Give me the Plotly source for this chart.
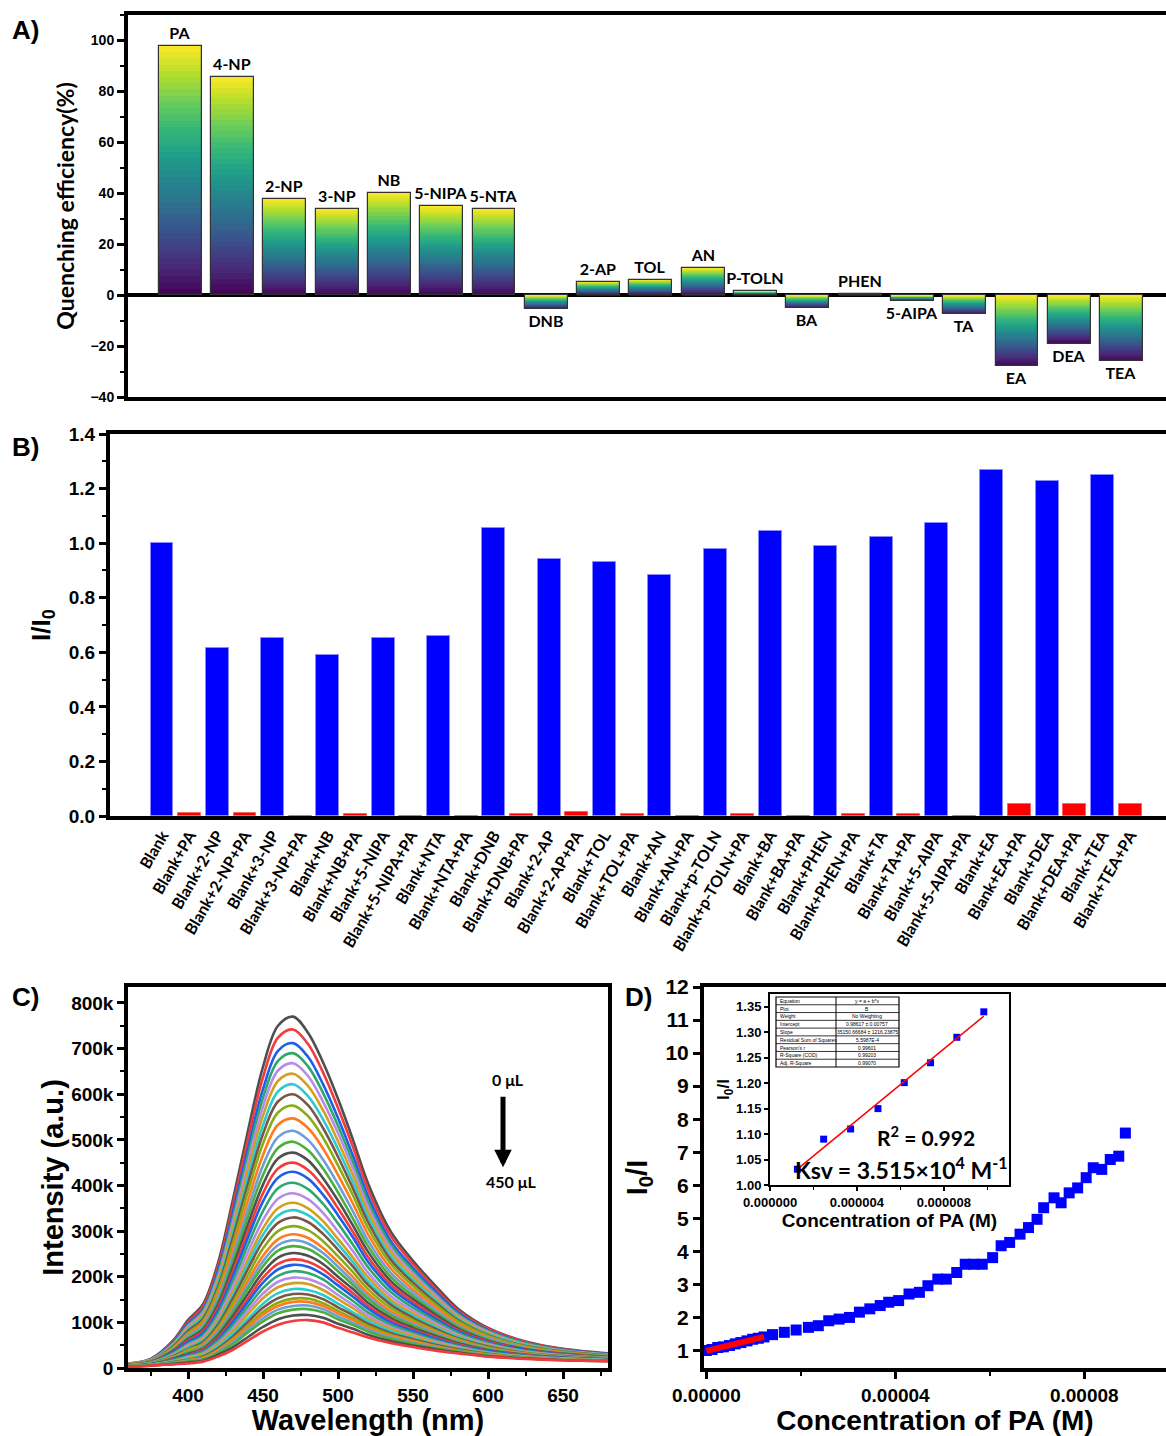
import numpy as np
import plotly.graph_objects as go
from plotly.colors import sample_colorscale

# ---------------- Panel A : quenching efficiency ----------------
qe_labels = ["PA", "4-NP", "2-NP", "3-NP", "NB", "5-NIPA", "5-NTA", "DNB", "2-AP", "TOL",
             "AN", "P-TOLN", "BA", "PHEN", "5-AIPA", "TA", "EA", "DEA", "TEA"]
qe_values = [97.9, 85.8, 37.9, 33.9, 40.1, 34.9, 33.9, -5.5, 5.1, 6.0,
             10.5, 1.5, -5.0, 0.3, -2.4, -7.6, -28.0, -19.0, -26.0]

# ---------------- Panel B : I/I0 ----------------
b_labels = ["Blank", "Blank+PA", "Blank+2-NP", "Blank+2-NP+PA", "Blank+3-NP", "Blank+3-NP+PA",
            "Blank+NB", "Blank+NB+PA", "Blank+5-NIPA", "Blank+5-NIPA+PA", "Blank+NTA", "Blank+NTA+PA",
            "Blank+DNB", "Blank+DNB+PA", "Blank+2-AP", "Blank+2-AP+PA", "Blank+TOL", "Blank+TOL+PA",
            "Blank+AN", "Blank+AN+PA", "Blank+p-TOLN", "Blank+p-TOLN+PA", "Blank+BA", "Blank+BA+PA",
            "Blank+PHEN", "Blank+PHEN+PA", "Blank+TA", "Blank+TA+PA", "Blank+5-AIPA", "Blank+5-AIPA+PA",
            "Blank+EA", "Blank+EA+PA", "Blank+DEA", "Blank+DEA+PA", "Blank+TEA", "Blank+TEA+PA"]
blue_values = [1.00, 0.617, 0.651, 0.590, 0.652, 0.658, 1.057, 0.943, 0.930,
               0.885, 0.977, 1.046, 0.988, 1.021, 1.073, 1.268, 1.227, 1.248]
red_values = [0.010, 0.010, 0.0, 0.007, 0.0, 0.0, 0.007, 0.014, 0.007,
              0.0, 0.007, 0.0, 0.009, 0.006, 0.0, 0.045, 0.045, 0.045]

# ---------------- Panel C : emission spectra (intensity in thousands) ----------------
wavelengths = [360, 375, 390, 400, 410, 420, 430, 440, 450, 460, 470, 480,
               490, 500, 510, 520, 535, 550, 565, 580, 600, 625, 650, 680]
spectra_k = [
    [10, 20, 60, 105, 140, 230, 370, 520, 660, 750, 770, 735, 670, 590, 500, 405, 300, 235, 180, 130, 88, 58, 42, 32],
    [10, 19, 58, 101, 135, 222, 357, 502, 637, 724, 742, 710, 648, 570, 484, 392, 290, 228, 174, 126, 86, 57, 41, 31],
    [9, 19, 56, 97, 129, 213, 342, 481, 611, 695, 712, 682, 622, 548, 465, 377, 279, 219, 168, 122, 83, 55, 40, 31],
    [9, 18, 54, 94, 125, 206, 331, 466, 592, 673, 690, 661, 603, 531, 451, 365, 271, 213, 163, 118, 81, 54, 39, 30],
    [9, 18, 52, 91, 121, 199, 320, 451, 573, 652, 668, 640, 584, 515, 437, 354, 263, 207, 159, 115, 79, 52, 38, 29],
    [9, 17, 50, 87, 117, 192, 309, 435, 553, 629, 645, 618, 565, 497, 422, 342, 255, 200, 154, 112, 76, 51, 37, 29],
    [8, 17, 49, 84, 112, 185, 297, 419, 532, 606, 622, 596, 545, 480, 407, 331, 246, 193, 149, 108, 74, 50, 37, 28],
    [8, 16, 47, 81, 108, 178, 287, 404, 513, 584, 600, 576, 526, 463, 393, 320, 238, 187, 144, 105, 72, 48, 36, 28],
    [8, 16, 45, 77, 103, 171, 274, 387, 492, 560, 575, 552, 505, 444, 378, 307, 229, 180, 139, 102, 70, 47, 35, 27],
    [8, 15, 43, 73, 98, 162, 260, 367, 467, 533, 547, 526, 481, 423, 360, 293, 219, 172, 133, 97, 67, 45, 34, 26],
    [7, 14, 41, 70, 93, 154, 247, 348, 444, 506, 520, 500, 457, 403, 343, 279, 209, 165, 127, 93, 65, 44, 33, 26],
    [7, 14, 39, 66, 88, 146, 235, 332, 423, 482, 496, 477, 437, 385, 327, 267, 200, 158, 122, 90, 62, 42, 32, 25],
    [7, 13, 37, 63, 84, 139, 223, 315, 402, 459, 472, 455, 416, 367, 312, 255, 191, 151, 117, 86, 60, 41, 31, 24],
    [7, 13, 35, 60, 80, 132, 212, 300, 383, 437, 450, 434, 398, 350, 298, 243, 183, 145, 112, 83, 58, 40, 30, 24],
    [6, 12, 34, 57, 76, 126, 202, 286, 365, 417, 430, 415, 380, 335, 286, 233, 176, 139, 108, 80, 56, 39, 29, 23],
    [6, 12, 32, 53, 71, 118, 190, 270, 344, 394, 406, 392, 360, 317, 270, 221, 167, 132, 103, 77, 54, 37, 28, 23],
    [6, 11, 30, 50, 67, 111, 179, 254, 324, 371, 383, 370, 340, 299, 256, 209, 158, 126, 98, 73, 52, 36, 28, 22],
    [6, 11, 28, 47, 63, 105, 168, 239, 306, 350, 362, 350, 322, 283, 242, 199, 150, 120, 93, 70, 50, 35, 27, 22],
    [6, 11, 27, 45, 60, 100, 160, 228, 292, 334, 346, 335, 308, 271, 232, 190, 144, 115, 90, 68, 48, 34, 26, 21],
    [5, 10, 26, 42, 57, 95, 153, 217, 278, 318, 330, 320, 294, 259, 222, 182, 139, 110, 86, 65, 47, 33, 26, 21],
    [5, 10, 24, 40, 53, 89, 143, 204, 262, 300, 311, 302, 278, 245, 210, 173, 132, 105, 82, 63, 45, 32, 25, 20],
    [5, 9, 23, 37, 50, 84, 134, 192, 246, 282, 293, 285, 263, 232, 199, 164, 125, 100, 79, 60, 43, 31, 24, 20],
    [5, 9, 22, 35, 48, 80, 128, 182, 234, 269, 280, 273, 252, 222, 190, 157, 120, 96, 76, 58, 42, 30, 24, 20],
    [5, 9, 21, 34, 45, 76, 122, 174, 223, 257, 267, 261, 241, 212, 182, 151, 116, 93, 73, 56, 41, 29, 23, 19],
    [5, 8, 20, 31, 42, 71, 114, 163, 210, 242, 252, 246, 228, 200, 173, 143, 110, 88, 70, 54, 39, 29, 23, 19],
    [4, 8, 19, 29, 40, 67, 107, 153, 198, 228, 238, 233, 216, 190, 164, 136, 105, 84, 67, 52, 38, 28, 22, 18],
    [4, 8, 18, 28, 37, 63, 101, 145, 187, 216, 226, 222, 205, 181, 156, 130, 100, 81, 64, 50, 37, 27, 22, 18],
    [4, 7, 17, 26, 35, 59, 94, 135, 175, 202, 212, 208, 194, 170, 147, 122, 95, 77, 61, 48, 35, 26, 21, 18],
    [4, 7, 15, 24, 32, 54, 87, 126, 163, 189, 198, 195, 182, 160, 138, 115, 90, 73, 58, 46, 34, 25, 21, 17],
    [4, 7, 15, 22, 30, 51, 81, 118, 153, 177, 186, 184, 171, 151, 131, 109, 86, 70, 56, 44, 33, 25, 20, 17],
    [4, 7, 14, 20, 27, 47, 75, 108, 141, 164, 173, 171, 160, 141, 122, 103, 81, 66, 53, 42, 32, 24, 20, 17],
    [4, 6, 13, 18, 25, 43, 69, 101, 132, 153, 162, 161, 151, 133, 116, 97, 77, 63, 51, 41, 31, 23, 19, 16],
    [4, 6, 12, 17, 23, 40, 64, 94, 123, 143, 152, 152, 142, 125, 109, 92, 73, 60, 48, 39, 30, 23, 19, 16],
    [3, 6, 11, 16, 22, 38, 61, 89, 117, 136, 145, 145, 136, 120, 105, 88, 70, 58, 47, 38, 29, 22, 19, 16],
    [3, 6, 11, 15, 20, 35, 57, 83, 109, 128, 136, 137, 129, 113, 99, 84, 67, 55, 45, 37, 28, 22, 18, 16],
    [3, 6, 10, 14, 19, 33, 53, 78, 102, 120, 128, 129, 122, 107, 94, 80, 64, 53, 43, 36, 27, 21, 18, 16],
    [3, 5, 9, 12, 16, 29, 46, 68, 90, 107, 115, 116, 110, 97, 86, 73, 59, 49, 41, 34, 26, 21, 17, 15],
    [3, 5, 8, 10, 14, 25, 40, 60, 80, 95, 103, 105, 100, 88, 78, 67, 55, 46, 38, 32, 25, 20, 17, 15],
]

# ---------------- Panel D : Stern-Volmer ----------------
conc_uM = [0, 1.2, 2.4, 3.6, 4.9, 6.1, 7.3, 8.6, 9.8, 11.0, 12.2, 14.0, 16.5, 19.0, 21.6, 23.7,
           25.9, 28.1, 30.3, 32.4, 34.6, 36.8, 38.6, 40.7, 42.9, 45.1, 46.9, 49.0, 50.8, 53.0,
           54.8, 56.6, 58.4, 60.6, 62.4, 64.2, 66.4, 68.2, 70.0, 71.4, 73.6, 75.1, 76.8, 78.6,
           80.4, 81.9, 83.7, 85.5, 87.3, 88.7]
ratio_main = [1.00, 1.03, 1.09, 1.11, 1.15, 1.20, 1.24, 1.29, 1.34, 1.37, 1.41, 1.48, 1.55, 1.62,
              1.70, 1.75, 1.90, 1.95, 2.00, 2.16, 2.26, 2.36, 2.46, 2.51, 2.71, 2.76, 2.96, 3.16,
              3.16, 3.36, 3.61, 3.61, 3.61, 3.81, 4.17, 4.27, 4.52, 4.72, 4.97, 5.32, 5.62, 5.47,
              5.77, 5.92, 6.23, 6.53, 6.48, 6.78, 6.88, 7.58]
inset_conc_uM = [1.26, 2.47, 3.71, 4.97, 6.18, 7.39, 8.60, 9.84]
inset_ratio = [1.031, 1.090, 1.110, 1.150, 1.201, 1.240, 1.290, 1.340]
fit_points_main = 11  # linear region highlighted on the main plot

table_names = ["Equation", "Plot", "Weight", "Intercept", "Slope", "Residual Sum of Squares",
               "Pearson's r", "R-Square (COD)", "Adj. R-Square"]
table_vals = ["y = a + b*x", "B", "No Weighting", "0.98617 ± 0.00757", "35150.66684 ± 1216.23875",
              "5.5987E-4", "0.99601", "0.99203", "0.99070"]

# ---------------- figure ----------------
W, H = 1166, 1436
def fx(p):
    return p / W
def fy(p):
    return 1 - p / H

TICKF = "Liberation Sans"
CAL = "Lato"
fig = go.Figure()

# Panel A gradient bars (nested bars, each slightly shorter, viridis coloured)
N = 40
for k in range(N):
    heights = [v * (N - k) / N for v in qe_values]
    fr = [((N - k - 0.5) / N) if v >= 0 else ((k + 0.5) / N) for v in qe_values]
    cols = sample_colorscale("Viridis", fr)
    fig.add_trace(go.Bar(x=qe_labels, y=heights, width=0.82, marker=dict(color=cols, line=dict(width=0)),
                         xaxis="x", yaxis="y", showlegend=False, hoverinfo="skip"))
fig.add_trace(go.Bar(x=qe_labels, y=qe_values, width=0.82, text=qe_labels, textposition="outside",
                     constraintext="none", cliponaxis=False,
                     textfont=dict(family=CAL, size=16, color="black", weight="bold"),
                     marker=dict(color="rgba(0,0,0,0)", line=dict(color="#333333", width=1.2)),
                     xaxis="x", yaxis="y", showlegend=False))

# Panel B
fig.add_trace(go.Bar(x=b_labels[0::2], y=blue_values, width=0.83,
                     marker=dict(color="#0000ff", line=dict(color="#8a8aff", width=1)),
                     xaxis="x2", yaxis="y2", showlegend=False))
fig.add_trace(go.Bar(x=b_labels[1::2], y=red_values, width=0.83,
                     marker=dict(color="#ff0000", line=dict(color="#ff6060", width=1)),
                     xaxis="x2", yaxis="y2", showlegend=False))

# Panel C
palette = ["#4f4f4f", "#f23b3b", "#1f5fe8", "#2ea86a", "#b98ae8", "#d2a01e",
           "#2ccbd2", "#7a5648", "#86ad14", "#ff7b1c", "#6d9ed8", "#4cae3c"]
for i, row in enumerate(spectra_k):
    fig.add_trace(go.Scatter(x=wavelengths, y=[v * 1000 for v in row], mode="lines",
                             line=dict(color=palette[i % len(palette)], width=2.6, shape="spline", smoothing=1.0),
                             xaxis="x3", yaxis="y3", showlegend=False))

# Panel D main
conc_M = [c * 1e-6 for c in conc_uM]
inset_M = [c * 1e-6 for c in inset_conc_uM]
slope, intercept = np.polyfit(inset_M, inset_ratio, 1)
fig.add_trace(go.Scatter(x=conc_M, y=ratio_main, mode="markers",
                         marker=dict(symbol="square", size=11, color="#0000ff"),
                         xaxis="x4", yaxis="y4", showlegend=False))
fx_main = [min(conc_M[:fit_points_main]), max(conc_M[:fit_points_main])]
fig.add_trace(go.Scatter(x=fx_main, y=[intercept + slope * v for v in fx_main], mode="lines",
                         line=dict(color="#ff0000", width=6), xaxis="x4", yaxis="y4", showlegend=False))
# Inset
fig.add_trace(go.Scatter(x=inset_M, y=inset_ratio, mode="markers",
                         marker=dict(symbol="square", size=7, color="#0000ff"),
                         xaxis="x5", yaxis="y5", showlegend=False))
fx_in = [min(inset_M), max(inset_M)]
fig.add_trace(go.Scatter(x=fx_in, y=[intercept + slope * v for v in fx_in], mode="lines",
                         line=dict(color="#ff0000", width=1.5), xaxis="x5", yaxis="y5", showlegend=False))

tickA = dict(family=TICKF, size=14, color="black", weight="bold")
ax_common = dict(showgrid=False, linecolor="black", color="black", zeroline=False, automargin=False)

fig.update_layout(
    width=W, height=H, margin=dict(l=0, r=0, t=0, b=0, autoexpand=False),
    paper_bgcolor="white", plot_bgcolor="white", barmode="overlay", bargap=0,
    showlegend=False,
    # Panel A
    xaxis=dict(domain=[fx(128), 1], range=[-1, 18.85], anchor="y", showticklabels=False, ticks="",
               showline=True, linewidth=4, mirror=True, **ax_common),
    yaxis=dict(domain=[fy(397), fy(15)], range=[-40, 110], anchor="x", tickmode="linear", tick0=0, dtick=20,
               ticks="outside", ticklen=7, tickwidth=3, minor=dict(ticks="outside", ticklen=4, tickwidth=2, dtick=10),
               showline=True, linewidth=4, showgrid=False, linecolor="black", color="black", automargin=False,
               zeroline=True, zerolinewidth=4, zerolinecolor="black", layer="above traces",
               tickfont=tickA,
               title=dict(text="Quenching efficiency(%)", standoff=10,
                          font=dict(family=CAL, size=23, color="black", weight="bold"))),
    # Panel B
    xaxis2=dict(domain=[fx(110), 1], range=[-1.88, 36.3], anchor="y2", type="category",
                categoryorder="array", categoryarray=b_labels, tickangle=-60, ticks="",
                tickfont=dict(family=CAL, size=16, color="black", weight="bold"),
                showline=True, linewidth=4, mirror=True, **ax_common),
    yaxis2=dict(domain=[fy(816), fy(434)], range=[0, 1.4], anchor="x2", tickmode="linear", tick0=0, dtick=0.2,
                tickformat=".1f", ticks="outside", ticklen=7, tickwidth=3,
                minor=dict(ticks="outside", ticklen=4, tickwidth=2, dtick=0.1),
                showline=True, linewidth=4, tickfont=dict(family=TICKF, size=19, color="black", weight="bold"),
                title=dict(text="I/I<sub>0</sub>", standoff=12,
                           font=dict(family=TICKF, size=26, color="black", weight="bold")), **ax_common),
    # Panel C
    xaxis3=dict(domain=[fx(128), fx(608)], range=[360, 680], anchor="y3", tickmode="linear", tick0=0, dtick=50,
                ticks="outside", ticklen=7, tickwidth=3, minor=dict(ticks="outside", ticklen=4, tickwidth=2, dtick=25),
                showline=True, linewidth=3.5, mirror=True,
                tickfont=dict(family=TICKF, size=19, color="black", weight="bold"),
                title=dict(text="Wavelength (nm)", standoff=2,
                           font=dict(family=TICKF, size=29, color="black", weight="bold")), **ax_common),
    yaxis3=dict(domain=[fy(1368), fy(987)], range=[0, 835000], anchor="x3", tickmode="linear", tick0=0, dtick=100000,
                tickformat="~s", ticks="outside", ticklen=7, tickwidth=3,
                minor=dict(ticks="outside", ticklen=4, tickwidth=2, dtick=50000),
                showline=True, linewidth=3.5, mirror=True,
                tickfont=dict(family=TICKF, size=19, color="black", weight="bold"),
                title=dict(text="Intensity (a.u.)", standoff=0,
                           font=dict(family=TICKF, size=29, color="black", weight="bold")), **ax_common),
    # Panel D
    xaxis4=dict(domain=[fx(704), 1], range=[-5e-7, 9.73e-5], anchor="y4", tickmode="linear", tick0=0, dtick=4e-5,
                tickformat=".5f", ticks="outside", ticklen=7, tickwidth=3,
                minor=dict(ticks="outside", ticklen=4, tickwidth=2, dtick=2e-5),
                showline=True, linewidth=4, mirror=True,
                tickfont=dict(family=TICKF, size=19, color="black", weight="bold"),
                title=dict(text="Concentration of PA (M)", standoff=7,
                           font=dict(family=TICKF, size=28, color="black", weight="bold")), **ax_common),
    yaxis4=dict(domain=[fy(1368), fy(987)], range=[0.47, 12], anchor="x4", tickmode="linear", tick0=0, dtick=1,
                ticks="outside", ticklen=7, tickwidth=3, showline=True, linewidth=4,
                tickfont=dict(family=TICKF, size=21, color="black", weight="bold"),
                title=dict(text="I<sub>0</sub>/I", standoff=10,
                           font=dict(family=TICKF, size=29, color="black", weight="bold")), **ax_common),
    # Inset
    xaxis5=dict(domain=[fx(770), fx(1009)], range=[0, 1.1e-5], anchor="y5", tickmode="linear", tick0=0, dtick=4e-6,
                tickformat=".6f", ticks="outside", ticklen=4, tickwidth=1.5,
                minor=dict(ticks="outside", ticklen=3, tickwidth=1, dtick=2e-6),
                showline=True, linewidth=2, mirror=True,
                tickfont=dict(family=TICKF, size=13, color="black", weight="bold"),
                title=dict(text="Concentration of PA (M)", standoff=2,
                           font=dict(family=TICKF, size=19, color="black", weight="bold")), **ax_common),
    yaxis5=dict(domain=[fy(1185), fy(994)], range=[1.0, 1.375], anchor="x5", tickmode="linear", tick0=1.0, dtick=0.05,
                tickformat=".2f", ticks="outside", ticklen=4, tickwidth=1.5,
                showline=True, linewidth=2, mirror=True,
                tickfont=dict(family=TICKF, size=13, color="black", weight="bold"),
                title=dict(text="I<sub>0</sub>/I", standoff=2,
                           font=dict(family=TICKF, size=17, color="black", weight="bold")), **ax_common),
)

annots = []
for lab, xx, yy in [("A)", 25, 30), ("B)", 25, 447), ("C)", 25, 997), ("D)", 638, 997)]:
    annots.append(dict(text=lab, x=fx(xx), y=fy(yy), xref="paper", yref="paper", showarrow=False,
                       xanchor="center", yanchor="middle",
                       font=dict(family=TICKF, size=26, color="black", weight="bold")))
annots.append(dict(text="0 μL", x=613, y=632000, xref="x3", yref="y3", showarrow=False,
                   font=dict(family=CAL, size=16, color="black", weight="bold")))
annots.append(dict(text="450 μL", x=615, y=408000, xref="x3", yref="y3", showarrow=False,
                   font=dict(family=CAL, size=16, color="black", weight="bold")))
annots.append(dict(text="", x=610, y=440000, ax=610, ay=598000, xref="x3", yref="y3", axref="x3", ayref="y3",
                   showarrow=True, arrowhead=2, arrowwidth=5, arrowsize=0.7, arrowcolor="black"))
annots.append(dict(text="R<sup>2</sup> = 0.992", x=fx(926), y=fy(1136), xref="paper", yref="paper", showarrow=False,
                   xanchor="center", yanchor="middle",
                   font=dict(family=CAL, size=21, color="black", weight="bold")))
annots.append(dict(text="Ksv = 3.515×10<sup>4</sup> M<sup>-1</sup>", x=fx(901), y=fy(1168), xref="paper", yref="paper",
                   xanchor="center", yanchor="middle",
                   showarrow=False, font=dict(family=CAL, size=23, color="black", weight="bold")))

# fit-statistics table inside the inset (grid + tiny text)
shapes = []
tx0, tx1, tmid, ty0, ty1 = 776, 899, 836, 997, 1067
rh = (ty1 - ty0) / len(table_names)
shapes.append(dict(type="rect", xref="paper", yref="paper", x0=fx(tx0), x1=fx(tx1), y0=fy(ty1), y1=fy(ty0),
                   line=dict(color="black", width=1.2), fillcolor="white", layer="above"))
shapes.append(dict(type="line", xref="paper", yref="paper", x0=fx(tmid), x1=fx(tmid), y0=fy(ty1), y1=fy(ty0),
                   line=dict(color="black", width=1), layer="above"))
for r in range(len(table_names)):
    if r > 0:
        shapes.append(dict(type="line", xref="paper", yref="paper", x0=fx(tx0), x1=fx(tx1),
                           y0=fy(ty0 + r * rh), y1=fy(ty0 + r * rh), line=dict(color="black", width=0.8),
                           layer="above"))
    yc = fy(ty0 + (r + 0.5) * rh)
    annots.append(dict(text=table_names[r], x=fx(tx0 + 2), y=yc, xref="paper", yref="paper", xanchor="left",
                       yanchor="middle", showarrow=False, font=dict(family=TICKF, size=5, color="black")))
    annots.append(dict(text=table_vals[r], x=fx((tmid + tx1) / 2), y=yc, xref="paper", yref="paper",
                       xanchor="center", yanchor="middle",
                       showarrow=False, font=dict(family=TICKF, size=5, color="black")))
fig.update_layout(annotations=annots, shapes=shapes)

fig.write_html("out.html", config={"displayModeBar": False},
               post_script="document.body.style.margin='0px';document.body.style.padding='0px';")
